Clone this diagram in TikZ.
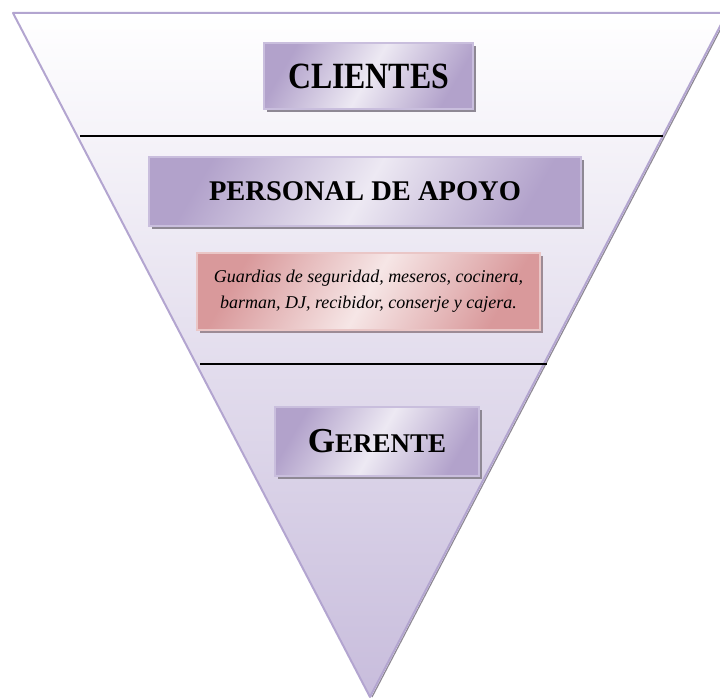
\documentclass[tikz,border=0pt]{standalone}
\usepackage{fontspec}
\setmainfont{Liberation Serif}
\usetikzlibrary{shadows}
\definecolor{lavedge}{HTML}{B3A5D0}
\definecolor{lavdark}{HTML}{B2A2CB}
\definecolor{lavlight}{HTML}{EDE9F3}
\definecolor{lavline}{HTML}{C9BEDD}
\definecolor{rosedark}{HTML}{D9999B}
\definecolor{roselight}{HTML}{F6E6E6}
\definecolor{roseline}{HTML}{EAC6C6}
\definecolor{shadowgray}{HTML}{8E8894}
\tikzset{
  tier/.style={draw=lavline, line width=1.2pt, inner sep=0pt,
    left color=lavdark, right color=lavdark, middle color=lavlight,
    shading angle=60,
    drop shadow={shadow xshift=3pt, shadow yshift=-3pt, fill=shadowgray, opacity=1}},
  staffbox/.style={draw=roseline, line width=1.2pt, inner sep=0pt,
    left color=rosedark, right color=rosedark, middle color=roselight,
    shading angle=60, align=center,
    font=\fontsize{18}{26}\selectfont\itshape,
    drop shadow={shadow xshift=3pt, shadow yshift=-3pt, fill=shadowgray!80!rosedark, opacity=1}},
  divider/.style={line width=1.3pt, black}
}
\begin{document}
\begin{tikzpicture}[x=1pt,y=-1pt]
\useasboundingbox (0,0) rectangle (720,698);
\begin{scope}
\clip (0,0) rectangle (720,698);
% inverted pyramid
\coordinate (tl) at (13,13);
\coordinate (tr) at (727,13);
\coordinate (apex) at (370,697);
\draw[shadowgray, line width=1.2pt] ([xshift=2pt]tr) -- ([xshift=2pt]apex);
\shade[top color=white, bottom color=lavline!95!lavdark] (tl) -- (tr) -- (apex) -- cycle;
\draw[lavedge, line width=2pt, line join=round] (tl) -- (tr) -- (apex) -- cycle;
% level dividers
\coordinate (d1l) at (80,136);
\coordinate (d1r) at (663,136);
\coordinate (d2l) at (200,364);
\coordinate (d2r) at (547,364);
\draw[divider] (d1l) -- (d1r);
\draw[divider] (d2l) -- (d2r);
\end{scope}
% levels
\node[tier, minimum width=209pt, minimum height=66pt] (clientes) at (368.5,76)
  {\scalebox{0.86}[1]{\fontsize{37}{40}\selectfont\bfseries CLIENTES}};
\node[tier, minimum width=432pt, minimum height=69pt] (apoyo) at (365,191.5)
  {\fontsize{28.5}{30}\selectfont\bfseries PERSONAL DE APOYO};
\node[staffbox, minimum width=343pt, minimum height=77pt] (staff) at (368.5,291.5)
  {Guardias de seguridad, meseros, cocinera,\\ barman, DJ, recibidor, conserje y cajera.};
\node[tier, minimum width=204pt, minimum height=69pt] (gerente) at (377,441.5)
  {\bfseries{\fontsize{35}{36}\selectfont G}{\fontsize{27}{36}\selectfont ERENTE}};
\end{tikzpicture}
\end{document}
